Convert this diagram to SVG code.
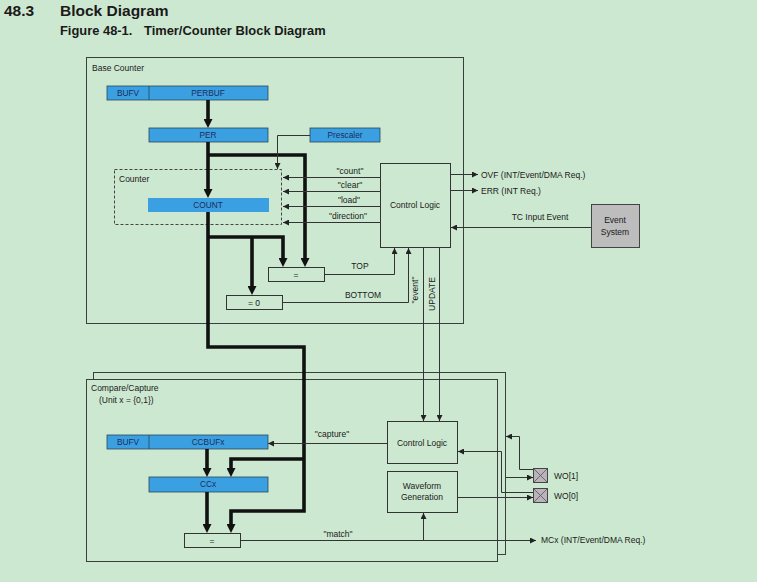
<svg xmlns="http://www.w3.org/2000/svg" width="757" height="582" viewBox="0 0 757 582">
<style>
text{font-family:"Liberation Sans",Arial,sans-serif;fill:#1a1a1a}
.h1{font-size:15.5px;font-weight:bold}
.h2{font-size:12.9px;font-weight:bold}
.t{font-size:8.5px}
.tc{font-size:8.5px;text-anchor:middle}
.bt{font-size:8.3px;text-anchor:middle;fill:#1b2e5c}
.frame{fill:none;stroke:#3a3f3b;stroke-width:1}
.framef{fill:#cde8d0;stroke:#3a3f3b;stroke-width:1}
.box{fill:none;stroke:#333;stroke-width:1}
.blue{fill:#3aa0e2;stroke:#2a4656;stroke-width:0.8}
.bluen{fill:#3aa0e2;stroke:none}
.thick{fill:none;stroke:#111;stroke-width:3.6;stroke-linejoin:miter}
.thin{fill:none;stroke:#333;stroke-width:1}
.gray{fill:#bdbdbd;stroke:#444;stroke-width:1}
.wo{fill:#bbb3bb;stroke:#444;stroke-width:1}
</style>
<defs>
<marker id="ak" viewBox="0 0 9 9" refX="0" refY="4.5" markerWidth="9" markerHeight="9" markerUnits="userSpaceOnUse" orient="auto"><path d="M0,0 L9,4.5 L0,9 z" fill="#111"/></marker>
<marker id="at" viewBox="0 0 6 6" refX="6" refY="3" markerWidth="6" markerHeight="6" markerUnits="userSpaceOnUse" orient="auto"><path d="M0,0 L6,3 L0,6 z" fill="#222"/></marker>
</defs>
<rect width="757" height="582" fill="#cde8d0"/>
<g id="heading">
<text class="h1" x="4" y="16">48.3</text>
<text class="h1" x="60" y="16">Block Diagram</text>
<text class="h2" x="60" y="35">Figure 48-1.<tspan x="144">Timer/Counter Block Diagram</tspan></text>
</g>
<g id="base-counter">
<rect class="frame" x="86.5" y="57.5" width="377" height="266"/>
<text class="t" x="92" y="71">Base Counter</text>
</g>
<g id="perbuf">
<rect class="blue" x="107" y="86" width="161" height="14"/>
<line x1="149" y1="86" x2="149" y2="100" stroke="#2a4656" stroke-width="0.8"/>
<text class="bt" x="128" y="96">BUFV</text>
<text class="bt" x="208" y="96">PERBUF</text>
</g>
<g id="per">
<rect class="blue" x="149" y="128" width="119" height="14"/>
<text class="bt" x="208" y="138">PER</text>
</g>
<g id="prescaler">
<rect class="blue" x="310" y="128" width="70" height="14"/>
<text class="bt" x="345" y="138">Prescaler</text>
</g>
<g id="counter">
<rect x="114.5" y="169.5" width="167" height="55" fill="none" stroke="#444" stroke-width="1" stroke-dasharray="3,2"/>
<text class="t" x="119" y="182">Counter</text>
</g>
<g id="count">
<rect class="bluen" x="148" y="198" width="121" height="14"/>
<text class="bt" x="208" y="208">COUNT</text>
</g>
<g id="control-logic">
<rect class="box" x="380.5" y="163.5" width="70" height="84"/>
<text class="tc" x="415" y="208">Control Logic</text>
</g>
<g id="event-system">
<rect class="gray" x="591.5" y="204.5" width="48" height="43"/>
<text class="tc" x="615" y="223">Event</text>
<text class="tc" x="615" y="235">System</text>
</g>
<g id="cmp-top">
<rect class="box" x="268.5" y="267.5" width="56" height="14"/>
<text class="tc" x="296" y="278">=</text>
</g>
<g id="cmp-zero">
<rect class="box" x="226.5" y="295.5" width="56" height="14"/>
<text class="tc" x="254" y="306">= 0</text>
</g>
<g id="compare-capture">
<rect class="frame" x="93.5" y="372.5" width="412" height="182"/>
<rect class="framef" x="86.5" y="379.5" width="411" height="182"/>
<text class="t" x="91" y="391">Compare/Capture</text>
<text class="t" x="99" y="403">(Unit x = {0,1})</text>
</g>
<g id="ccbufx">
<rect class="blue" x="107" y="435" width="161" height="14"/>
<line x1="149" y1="435" x2="149" y2="449" stroke="#2a4656" stroke-width="0.8"/>
<text class="bt" x="128" y="445">BUFV</text>
<text class="bt" x="208" y="445">CCBUFx</text>
</g>
<g id="ccx">
<rect class="blue" x="149" y="477" width="119" height="15"/>
<text class="bt" x="208" y="487">CCx</text>
</g>
<g id="cmp-match">
<rect class="box" x="184.5" y="533.5" width="56" height="14"/>
<text class="tc" x="212" y="544">=</text>
</g>
<g id="cc-control-logic">
<rect class="box" x="387.5" y="421.5" width="70" height="42"/>
<text class="tc" x="422" y="446">Control Logic</text>
</g>
<g id="waveform">
<rect class="box" x="387.5" y="471.5" width="70" height="41"/>
<text class="tc" x="422" y="489">Waveform</text>
<text class="tc" x="422" y="500">Generation</text>
</g>
<g id="wo1">
<rect class="wo" x="533.5" y="468.5" width="14" height="14"/>
<path d="M533.5,468.5 L547.5,482.5 M547.5,468.5 L533.5,482.5" stroke="#555" stroke-width="0.8"/>
<text class="t" x="554" y="479">WO[1]</text>
</g>
<g id="wo0">
<rect class="wo" x="533.5" y="488.5" width="14" height="14"/>
<path d="M533.5,488.5 L547.5,502.5 M547.5,488.5 L533.5,502.5" stroke="#555" stroke-width="0.8"/>
<text class="t" x="554" y="499">WO[0]</text>
</g>
<g id="connectors">
<path class="thick" marker-end="url(#ak)" d="M208,100 V119"/>
<path class="thick" marker-end="url(#ak)" d="M208,142 V189"/>
<path class="thick" marker-end="url(#ak)" d="M208,155 H305 V258"/>
<path class="thick" marker-end="url(#ak)" d="M208,212 V347 H304 V511 H231 V524"/>
<path class="thick" marker-end="url(#ak)" d="M304,459 H231 V468"/>
<path class="thick" marker-end="url(#ak)" d="M208,237 H283 V258"/>
<path class="thick" marker-end="url(#ak)" d="M252,237 V286"/>
<path class="thick" marker-end="url(#ak)" d="M207,449 V468"/>
<path class="thick" marker-end="url(#ak)" d="M207,492 V524"/>
<path class="thin" marker-end="url(#at)" d="M310,135.5 H277.5 V169"/>
<path class="thin" marker-end="url(#at)" d="M380,177.5 H283"/>
<path class="thin" marker-end="url(#at)" d="M380,191.5 H283"/>
<path class="thin" marker-end="url(#at)" d="M380,206.5 H283"/>
<path class="thin" marker-end="url(#at)" d="M380,222.5 H283"/>
<path class="thin" marker-end="url(#at)" d="M450,174.5 H478"/>
<path class="thin" marker-end="url(#at)" d="M450,190.5 H478"/>
<path class="thin" marker-end="url(#at)" d="M591,227.5 H451"/>
<path class="thin" marker-end="url(#at)" d="M324,274.5 H394.5 V248"/>
<path class="thin" marker-end="url(#at)" d="M283,302.5 H408.5 V248"/>
<path class="thin" marker-end="url(#at)" d="M423.5,248 V421"/>
<path class="thin" marker-end="url(#at)" d="M439.5,248 V421"/>
<path class="thin" marker-end="url(#at)" d="M387,443.5 H268"/>
<path class="thin" marker-end="url(#at)" d="M240,540.5 H536"/>
<path class="thin" marker-end="url(#at)" d="M423.5,540 V513"/>
<path class="thin" marker-end="url(#at)" d="M506,477.5 H533"/>
<path class="thin" marker-end="url(#at)" d="M533,469.5 H519.5 V436.5 H506"/>
<path class="thin" marker-end="url(#at)" d="M533,492.5 H501.5 V451.5 H458"/>
<path class="thin" marker-end="url(#at)" d="M458,497.5 H533"/>
</g>
<g id="labels">
<text class="tc" x="350" y="174">"count"</text>
<text class="tc" x="350" y="188">"clear"</text>
<text class="tc" x="349" y="203">"load"</text>
<text class="tc" x="348" y="219">"direction"</text>
<text class="t" x="481" y="178">OVF (INT/Event/DMA Req.)</text>
<text class="t" x="481" y="194">ERR (INT Req.)</text>
<text class="tc" x="540" y="220">TC Input Event</text>
<text class="tc" x="360" y="269">TOP</text>
<text class="tc" x="363" y="298">BOTTOM</text>
<text class="tc" transform="translate(418,290) rotate(-90)">"event"</text>
<text class="tc" transform="translate(435,294) rotate(-90)">UPDATE</text>
<text class="tc" x="332" y="437">"capture"</text>
<text class="tc" x="338" y="537">"match"</text>
<text class="t" x="541" y="543">MCx (INT/Event/DMA Req.)</text>
</g>
</svg>
